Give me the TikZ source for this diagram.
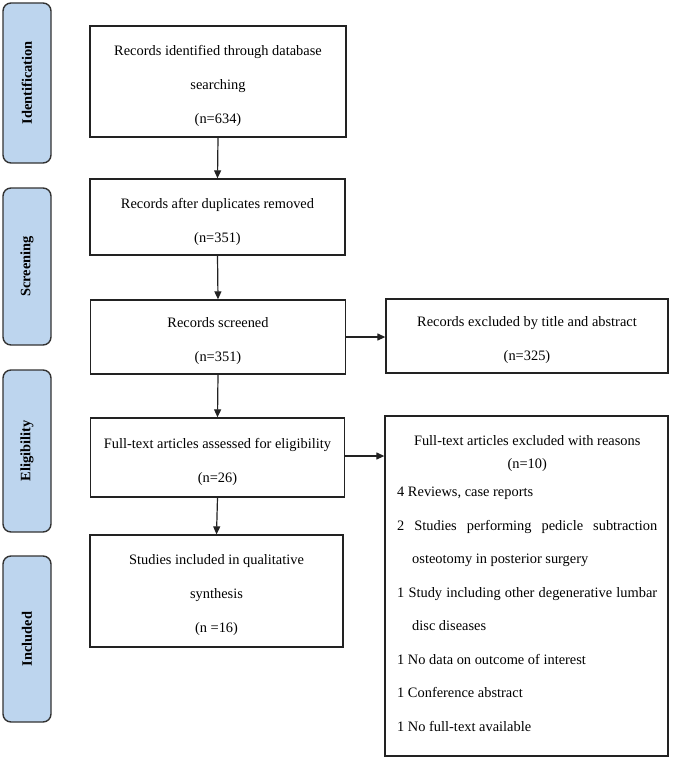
\documentclass[tikz,border=0pt]{standalone}
\usepackage{fontspec}
\setmainfont{Liberation Serif}
\usetikzlibrary{arrows.meta,calc}
\definecolor{sidefill}{HTML}{BDD5EE}
\definecolor{sideline}{HTML}{333333}
\definecolor{boxline}{HTML}{222222}
\tikzset{
  mainbox/.style={draw=boxline, line width=1.3pt, rectangle, inner sep=0pt},
  mtext/.style={align=center, inner sep=0pt, text=black, font=\fontsize{14.4}{34}\selectfont, yshift=-4.5pt},
  sidebox/.style={draw=sideline, fill=sidefill, line width=1.4pt, rounded corners=8pt,
    rotate=90, minimum height=48pt, inner sep=0pt, font=\fontsize{14.4}{17}\selectfont\bfseries},
  flow/.style={draw=boxline, line width=1.2pt, -{Triangle[length=8pt,width=7pt]}}
}
\begin{document}
\begin{tikzpicture}[x=1pt,y=-1pt]
\useasboundingbox (0,0) rectangle (672,760);
% side labels
\node[sidebox, minimum width=160pt] (sid) at (27,83) {Identification};
\node[sidebox, minimum width=157pt] (sscr) at (27,266.5) {Screening};
\node[sidebox, minimum width=162pt] (selig) at (27,451) {Eligibility};
\node[sidebox, minimum width=166pt] (sinc) at (27,639) {Included};
% main boxes
\node[mainbox, minimum width=256pt, minimum height=111pt,
  label={[mtext]center:{Records identified through database\\searching\\(n=634)}}] (b1) at (218,81.5) {};
\node[mainbox, minimum width=255pt, minimum height=76pt,
  label={[mtext]center:{Records after duplicates removed\\(n=351)}}] (b2) at (217.5,217) {};
\node[mainbox, minimum width=255pt, minimum height=74pt,
  label={[mtext]center:{Records screened\\(n=351)}}] (b3) at (218,337) {};
\node[mainbox, minimum width=254pt, minimum height=79pt,
  label={[mtext]center:{Full-text articles assessed for eligibility\\(n=26)}}] (b4) at (217.5,457.5) {};
\node[mainbox, minimum width=253pt, minimum height=112pt,
  label={[mtext]center:{Studies included in qualitative\\synthesis\\(n =16)}}] (b5) at (216.5,591) {};
% right boxes
\node[mainbox, minimum width=282pt, minimum height=74pt,
  label={[mtext]center:{Records excluded by title and abstract\\(n=325)}}] (r1) at (527,336) {};
\node[mainbox, minimum width=283pt, minimum height=340pt] (r2) at (526.5,586) {};
\node[anchor=north west, inner sep=0pt, align=left, font=\fontsize{14.4}{33.5}\selectfont] (r2t) at (397,435.5)
  {\makebox[260pt]{Full-text articles excluded with reasons}\\[-10.5pt]
   \makebox[260pt]{(n=10)}\\[-5.5pt]
   4 Reviews, case reports\\
   \makebox[260pt][s]{2 Studies performing pedicle subtraction}\\
   \hspace*{15pt}osteotomy in posterior surgery\\
   \makebox[260pt][s]{1 Study including other degenerative lumbar}\\
   \hspace*{15pt}disc diseases\\
   1 No data on outcome of interest\\
   1 Conference abstract\\
   1 No full-text available};
% connectors
\draw[flow] (b1.south) -- (b2.north);
\draw[flow] (b2.south) -- (b3.north);
\draw[flow] (b3.south) -- (b4.north);
\draw[flow] (b4.south) -- (b5.north);
\draw[flow] (b3.east) -- (b3.east -| r1.west);
\draw[flow] ($(b4.east)+(0,-1.5)$) -- ($(b4.east -| r2.west)+(0,-1.5)$);
\end{tikzpicture}
\end{document}
